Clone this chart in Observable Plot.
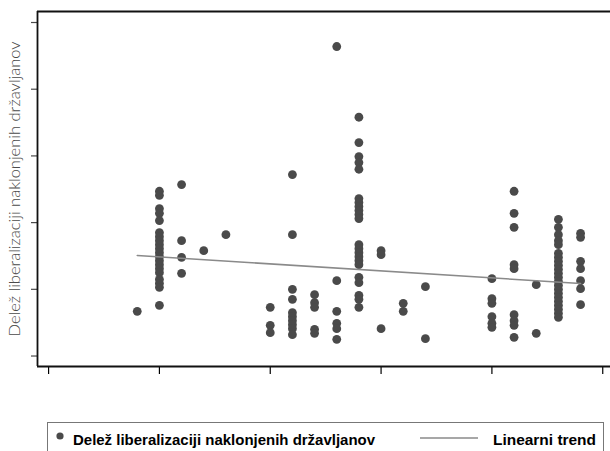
<!DOCTYPE html>
<html>
<head>
<meta charset="utf-8">
<script src="https://cdn.jsdelivr.net/npm/d3@7"></script>
<script src="https://cdn.jsdelivr.net/npm/@observablehq/plot@0.6"></script>
<style>
  html, body { margin: 0; padding: 0; background: #fff; }
  #chart { width: 610px; }
  #legend { display: block; }
</style>
</head>
<body>
<div id="chart"></div>
<script>
// x position of each column (category position) and its y values
const columnX = [0.8, 1.0, 1.2, 1.4, 1.6, 2.0, 2.2, 2.4, 2.6, 2.8, 3.0, 3.2, 3.4, 4.0, 4.2, 4.4, 4.6, 4.8];
const columnValues = [
  [0.67],
  [2.47, 2.41, 2.21, 2.14, 2.03, 1.85, 1.79, 1.73, 1.67, 1.61, 1.55, 1.49, 1.43, 1.37, 1.31, 1.25, 1.15, 1.09, 1.03, 0.76],
  [2.57, 1.73, 1.48, 1.24],
  [1.58],
  [1.82],
  [0.73, 0.46, 0.35],
  [2.72, 1.82, 1.00, 0.85, 0.65, 0.59, 0.53, 0.47, 0.41, 0.32],
  [0.92, 0.80, 0.73, 0.40, 0.34],
  [4.64, 1.13, 0.67, 0.49, 0.41, 0.25],
  [3.58, 3.20, 2.99, 2.90, 2.80, 2.36, 2.30, 2.24, 2.18, 2.12, 2.06, 1.67, 1.61, 1.55, 1.49, 1.43, 1.37, 1.18, 1.10, 0.91, 0.85, 0.73],
  [1.58, 1.52, 0.41],
  [0.79, 0.67],
  [1.04, 0.26],
  [1.16, 0.86, 0.79, 0.59, 0.49, 0.43],
  [2.47, 2.14, 1.93, 1.37, 1.31, 0.62, 0.53, 0.46, 0.28],
  [1.07, 0.34],
  [2.05, 1.93, 1.82, 1.73, 1.67, 1.54, 1.48, 1.42, 1.36, 1.30, 1.24, 1.18, 1.12, 1.06, 1.00, 0.94, 0.88, 0.82, 0.76, 0.70, 0.64, 0.58],
  [1.84, 1.78, 1.42, 1.31, 1.13, 1.01, 0.77]
];
// linear trend at its two ends
const trendX = [0.8, 4.8];
const trendY = [1.507, 1.087];
const xTicks = [0, 1, 2, 3, 4, 5];
const yTicks = [0, 1, 2, 3, 4, 5];
const xDomain = [-0.1, 5.07];
const yDomain = [-0.157, 5.165];
const yLabel = "Delež liberalizaciji naklonjenih državljanov";
const legendLabels = ["Delež liberalizaciji naklonjenih državljanov", "Linearni trend"];

const points = columnX.flatMap((x, i) => columnValues[i].map(y => ({x, y})));
const trend = trendX.map((x, i) => ({x, y: trendY[i]}));

const plot = Plot.plot({
  width: 610,
  height: 400,
  marginLeft: 37,
  marginRight: 0,
  marginTop: 11,
  marginBottom: 34,
  style: {fontFamily: "Lato, sans-serif", background: "#fff"},
  x: {domain: xDomain, ticks: xTicks},
  y: {domain: yDomain, ticks: yTicks},
  marks: [
    Plot.axisX({ticks: xTicks, tickSize: 8, tickFormat: () => "", label: null, strokeWidth: 1.2}),
    Plot.axisY({ticks: yTicks, tickSize: 6, tickFormat: () => "", label: yLabel, labelAnchor: "center", labelArrow: "none", labelOffset: 29, fontSize: 16.5, color: "#4a4a4a", strokeWidth: 1.2}),
    Plot.ruleX([xDomain[0]], {stroke: "#111", strokeWidth: 1.8}),
    Plot.ruleY([yDomain[0], yDomain[1]], {stroke: "#111", strokeWidth: 1.8}),
    Plot.dot(points, {x: "x", y: "y", r: 4.4, fill: "#4a4a4a", stroke: "none"}),
    Plot.line(trend, {x: "x", y: "y", stroke: "#8a8a8a", strokeWidth: 1.6})
  ]
});
plot.querySelectorAll("text").forEach(t => { t.style.fontWeight = "300"; });
document.getElementById("chart").appendChild(plot);

// legend below the plot
const ns = "http://www.w3.org/2000/svg";
const leg = document.createElementNS(ns, "svg");
leg.setAttribute("id", "legend");
leg.setAttribute("width", 610);
leg.setAttribute("height", 51);
leg.innerHTML = `
  <rect x="47.5" y="22.5" width="556" height="40" fill="none" stroke="#777" stroke-width="1"/>
  <circle cx="60" cy="36" r="3.6" fill="#4a4a4a"/>
  <text x="73" y="45" font-family="Liberation Sans, Arial, sans-serif" font-weight="bold" font-size="15" fill="#000" textLength="302" lengthAdjust="spacingAndGlyphs">${legendLabels[0]}</text>
  <line x1="420" x2="478" y1="38" y2="38" stroke="#8a8a8a" stroke-width="1.4"/>
  <text x="493" y="45" font-family="Liberation Sans, Arial, sans-serif" font-weight="bold" font-size="15" fill="#000" textLength="103" lengthAdjust="spacingAndGlyphs">${legendLabels[1]}</text>
`;
document.getElementById("chart").appendChild(leg);
</script>
</body>
</html>
